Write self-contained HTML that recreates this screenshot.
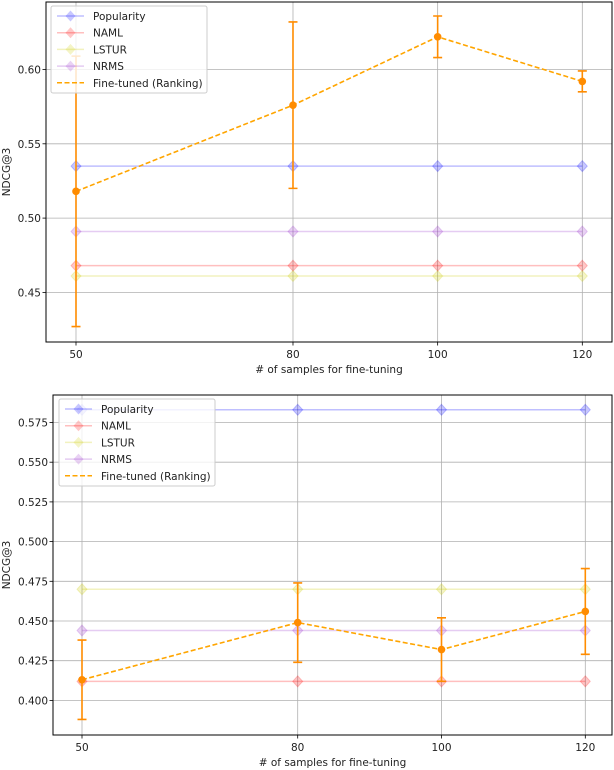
<!DOCTYPE html>
<html><head><meta charset="utf-8"><style>
html,body{margin:0;padding:0;background:#fff;}
svg{display:block;font-family:"DejaVu Sans","Liberation Sans",sans-serif;}
</style></head><body>
<svg id="root" width="614" height="770" viewBox="0 0 614 770"></svg>
<script>
const xCategories = [50, 80, 100, 120];
const seriesNames = ["Popularity", "NAML", "LSTUR", "NRMS"];
const top_popularity = [0.535, 0.535, 0.535, 0.535];
const top_naml = [0.468, 0.468, 0.468, 0.468];
const top_lstur = [0.461, 0.461, 0.461, 0.461];
const top_nrms = [0.491, 0.491, 0.491, 0.491];
const top_finetuned = [0.518, 0.576, 0.622, 0.592];
const top_err = [0.091, 0.056, 0.014, 0.007];
const top_ticks = [0.45, 0.50, 0.55, 0.60];
const bot_popularity = [0.583, 0.583, 0.583, 0.583];
const bot_naml = [0.412, 0.412, 0.412, 0.412];
const bot_lstur = [0.470, 0.470, 0.470, 0.470];
const bot_nrms = [0.444, 0.444, 0.444, 0.444];
const bot_finetuned = [0.413, 0.449, 0.432, 0.456];
const bot_err = [0.025, 0.025, 0.020, 0.027];
const bot_ticks = [0.400, 0.425, 0.450, 0.475, 0.500, 0.525, 0.550, 0.575];

const NS = "http://www.w3.org/2000/svg";
const root = document.getElementById("root");
function el(tag, attrs, parent, text) {
  const e = document.createElementNS(NS, tag);
  for (const k in attrs) e.setAttribute(k, attrs[k]);
  if (text !== undefined) e.textContent = text;
  (parent || root).appendChild(e);
  return e;
}
const colors = ["#0000ff", "#ff0000", "#cccc00", "#9933cc"];
const OR = "#ff8c00";

function drawPanel(cfg) {
  const g = el("g", {});
  
  
  const xS = v => cfg.x0 + (v - 50) * cfg.xk;
  const yS = v => cfg.yRef + (cfg.vRef - v) * cfg.yk;
  // grid
  cfg.ticks.forEach(t => {
    const l = el("line", {x1: cfg.L, x2: cfg.R, y1: yS(t), y2: yS(t), stroke: "#b0b0b0", "stroke-width": 0.8}, g);
    
    
    const tl = el("text", {x: cfg.L - 5, y: yS(t) + 4, "text-anchor": "end", "font-size": 10.5, fill: "#222"}, g, cfg.fmt(t));
    
    
    el("line", {x1: cfg.L - 3.5, x2: cfg.L, y1: yS(t), y2: yS(t), stroke: "#000", "stroke-width": 0.8}, g);
  });
  xCategories.forEach(c => {
    const l = el("line", {x1: xS(c), x2: xS(c), y1: cfg.T, y2: cfg.B, stroke: "#b0b0b0", "stroke-width": 0.8}, g);
    
    
    el("line", {x1: xS(c), x2: xS(c), y1: cfg.B, y2: cfg.B + 3.5, stroke: "#000", "stroke-width": 0.8}, g);
    const tl = el("text", {x: xS(c), y: cfg.B + 16, "text-anchor": "middle", "font-size": 10.5, fill: "#222"}, g, String(c));
    
    
  });
  // baseline series
  cfg.series.forEach((vals, i) => {
    const pts = vals.map((v, j) => xS(xCategories[j]) + "," + yS(v)).join(" ");
    const pl = el("polyline", {points: pts, fill: "none", stroke: colors[i], "stroke-opacity": 0.25, "stroke-width": 1.5}, g);
    
    
    vals.forEach((v, j) => {
      const x = xS(xCategories[j]), y = yS(v);
      const m = el("polygon", {points: `${x},${y-5.5} ${x+5},${y} ${x},${y+5.5} ${x-5},${y}`, fill: colors[i], "fill-opacity": 0.22, stroke: colors[i], "stroke-opacity": 0.22}, g);
      
      
    });
  });
  // fine-tuned
  cfg.ft.forEach((v, j) => {
    const x = xS(xCategories[j]);
    const e = cfg.err[j];
    const eb = el("path", {d: `M${x},${yS(v+e)}V${yS(v-e)}M${x-4.5},${yS(v+e)}H${x+4.5}M${x-4.5},${yS(v-e)}H${x+4.5}`, stroke: OR, "stroke-width": 1.6, fill: "none"}, g);
    
    
  });
  const fpts = cfg.ft.map((v, j) => xS(xCategories[j]) + "," + yS(v)).join(" ");
  const fl = el("polyline", {points: fpts, fill: "none", stroke: "#ffa500", "stroke-width": 1.6, "stroke-dasharray": "5,2.5"}, g);
  
  
  cfg.ft.forEach((v, j) => {
    const c = el("circle", {cx: xS(xCategories[j]), cy: yS(v), r: 3.8, fill: OR}, g);
    
    
  });
  // frame
  const fr = el("rect", {x: cfg.L, y: cfg.T, width: cfg.R - cfg.L, height: cfg.B - cfg.T, fill: "none", stroke: "#000", "stroke-width": 1}, g);
  
  
  // labels
  const xl = el("text", {x: (cfg.L + cfg.R) / 2, y: cfg.B + 31, "text-anchor": "middle", "font-size": 10.5, fill: "#222"}, g, "# of samples for fine-tuning");
  
  
  const yc = (cfg.T + cfg.B) / 2;
  const yl = el("text", {x: 10, y: yc, "text-anchor": "middle", "font-size": 10.5, fill: "#222", transform: `rotate(-90 10 ${yc})`}, g, "NDCG@3");
  
  
  // legend
  const lg = el("g", {}, g);
  
  
  el("rect", {x: cfg.lx, y: cfg.ly, width: 156, height: 87, rx: 2, fill: "#fff", "fill-opacity": 0.8, stroke: "#ccc"}, lg);
  const names = seriesNames.concat(["Fine-tuned (Ranking)"]);
  names.forEach((n, i) => {
    const y = cfg.ly + 10 + i * 16.7;
    const en = el("g", {}, lg);
    
    
    if (i < 4) {
      el("line", {x1: cfg.lx + 6, x2: cfg.lx + 33, y1: y, y2: y, stroke: colors[i], "stroke-opacity": 0.25, "stroke-width": 1.5}, en);
      const x = cfg.lx + 19.5;
      el("polygon", {points: `${x},${y-5.5} ${x+5},${y} ${x},${y+5.5} ${x-5},${y}`, fill: colors[i], "fill-opacity": 0.22}, en);
    } else {
      el("line", {x1: cfg.lx + 6, x2: cfg.lx + 33, y1: y, y2: y, stroke: "#ffa500", "stroke-width": 1.5, "stroke-dasharray": "5,2.5"}, en);
    }
    el("text", {x: cfg.lx + 42, y: y + 4, "font-size": 10.5, fill: "#222"}, en, n);
  });
}

drawPanel({name: "top-chart", L: 46, R: 612, T: 2, B: 342, x0: 76, xk: 7.233, yRef: 69.5, vRef: 0.60, yk: 1486,
  ticks: top_ticks, fmt: t => t.toFixed(2), series: [top_popularity, top_naml, top_lstur, top_nrms],
  ft: top_finetuned, err: top_err, lx: 51, ly: 6});
drawPanel({name: "bottom-chart", L: 53, R: 612, T: 395, B: 735, x0: 82, xk: 7.19, yRef: 422.5, vRef: 0.575, yk: 1588,
  ticks: bot_ticks, fmt: t => t.toFixed(3), series: [bot_popularity, bot_naml, bot_lstur, bot_nrms],
  ft: bot_finetuned, err: bot_err, lx: 59, ly: 399});
</script>
</body></html>
